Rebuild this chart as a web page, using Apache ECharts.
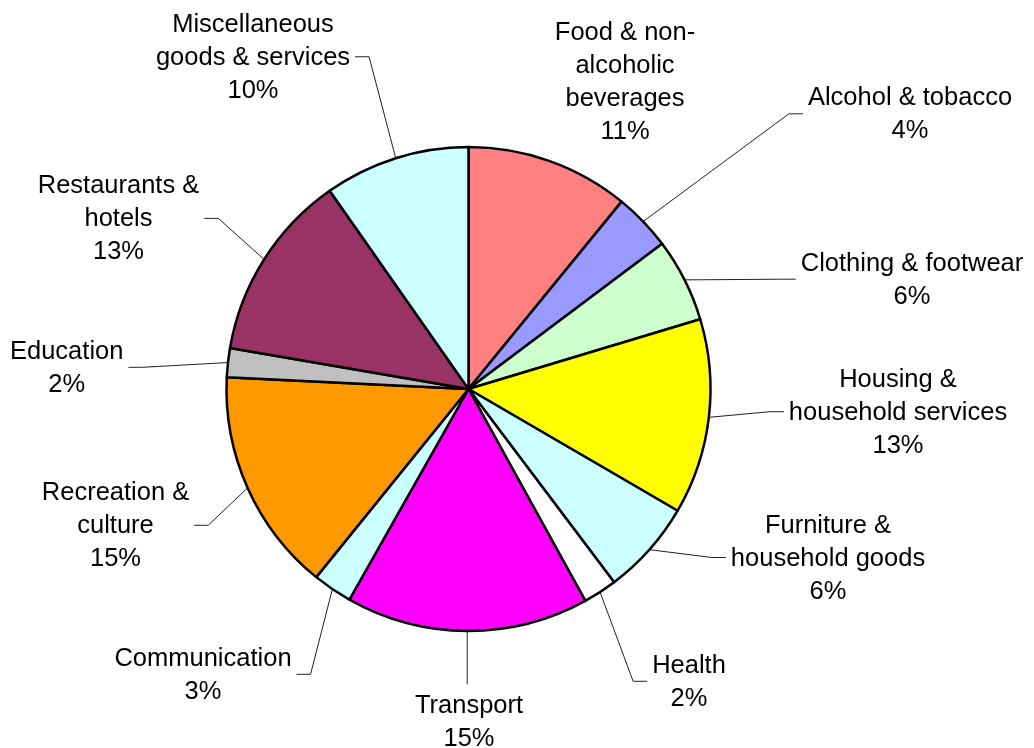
<!DOCTYPE html>
<html>
<head>
<meta charset="utf-8">
<script src="https://cdn.jsdelivr.net/npm/echarts@6/dist/echarts.min.js"></script>
<style>
html, body { margin: 0; padding: 0; background: #ffffff; }
#chart { width: 1034px; height: 748px; }
</style>
</head>
<body>
<div id="chart"></div>
<script>
// ---- data ----
const categories = [
  'Food & non-\nalcoholic\nbeverages',
  'Alcohol & tobacco',
  'Clothing & footwear',
  'Housing &\nhousehold services',
  'Furniture &\nhousehold goods',
  'Health',
  'Transport',
  'Communication',
  'Recreation &\nculture',
  'Education',
  'Restaurants &\nhotels',
  'Miscellaneous\ngoods & services'
];
const shares = [10.9, 3.86, 5.58, 13.04, 6.33, 2.26, 16.2, 2.64, 14.94, 1.94, 12.56, 9.72];
// percentages printed on the labels
const labelPercents = [11, 4, 6, 13, 6, 2, 15, 3, 15, 2, 13, 10];

// ---- styling / layout ----
const colors = ['#FF8080', '#9999FF', '#CCFFCC', '#FFFF00', '#CCFFFF', '#FFFFFF',
                '#FF00FF', '#CCFFFF', '#FF9900', '#C0C0C0', '#993366', '#CCFFFF'];
const labelCenters = [
  [625, 82.5], [910, 114.8], [912, 280.2], [898, 412.7], [828, 558.5], [689, 682.3],
  [469, 722.4], [203, 675.3], [115.5, 526.3], [66.7, 368.3], [118.5, 219.4], [253, 57.75]
];
const CX = 468.5, CY = 389, R = 242;
const GAP = 5, ELBOW = 14, NEAR = 25;

const total = shares.reduce((a, b) => a + b, 0);
function edgePoint(i) {
  let cum = 0;
  for (let k = 0; k < i; k++) cum += shares[k];
  const a = (cum + shares[i] / 2) / total * 2 * Math.PI;
  return [CX + R * Math.sin(a), CY - R * Math.cos(a)];
}

const chart = echarts.init(document.getElementById('chart'), null, { renderer: 'canvas' });

const data = categories.map((name, i) => ({
  name: name,
  value: shares[i],
  itemStyle: { color: colors[i] }
}));

chart.setOption({
  backgroundColor: '#ffffff',
  animation: false,
  series: [{
    type: 'pie',
    center: [CX, CY],
    radius: R,
    startAngle: 90,
    clockwise: true,
    avoidLabelOverlap: false,
    silent: true,
    data: data,
    itemStyle: { borderColor: '#000000', borderWidth: 2.5 },
    label: {
      show: true,
      position: 'outside',
      formatter: p => categories[p.dataIndex] + '\n' + labelPercents[p.dataIndex] + '%',
      fontFamily: 'Liberation Sans, Arial, sans-serif',
      fontSize: 25.5,
      lineHeight: 33,
      color: '#000000',
      align: 'center'
    },
    labelLine: {
      show: true,
      length: 20,
      length2: 14,
      lineStyle: { color: '#222222', width: 1 }
    },
    labelLayout: function (params) {
      const i = params.dataIndex;
      const c = labelCenters[i];
      const w = params.labelRect.width, h = params.labelRect.height;
      const rx = c[0] - w / 2, ry = c[1] - h / 2;
      const st = (params.labelLinePoints && params.labelLinePoints[0]) ? params.labelLinePoints[0] : edgePoint(i);
      const sx = st[0], sy = st[1];
      const yMid = c[1] - 1;
      // distance from the slice edge point to the label box
      const ddx = Math.max(rx - sx, 0, sx - (rx + w));
      const ddy = Math.max(ry - sy, 0, sy - (ry + h));
      const dist = Math.sqrt(ddx * ddx + ddy * ddy);
      let pts;
      if (dist < NEAR) {
        pts = [[sx, sy], [sx, sy]];
      } else if (sx > rx && sx < rx + w) {
        const ey = sy < ry ? ry - GAP : ry + h + GAP;
        pts = [[sx, sy], [sx, ey]];
      } else if (sx <= rx) {
        const ex = rx - GAP;
        pts = [[sx, sy], [ex - ELBOW, yMid], [ex, yMid]];
      } else {
        const ex = rx + w + GAP;
        pts = [[sx, sy], [ex + ELBOW, yMid], [ex, yMid]];
      }
      return {
        x: c[0],
        y: c[1],
        align: 'center',
        verticalAlign: 'middle',
        labelLinePoints: pts
      };
    }
  }]
});
</script>
</body>
</html>
